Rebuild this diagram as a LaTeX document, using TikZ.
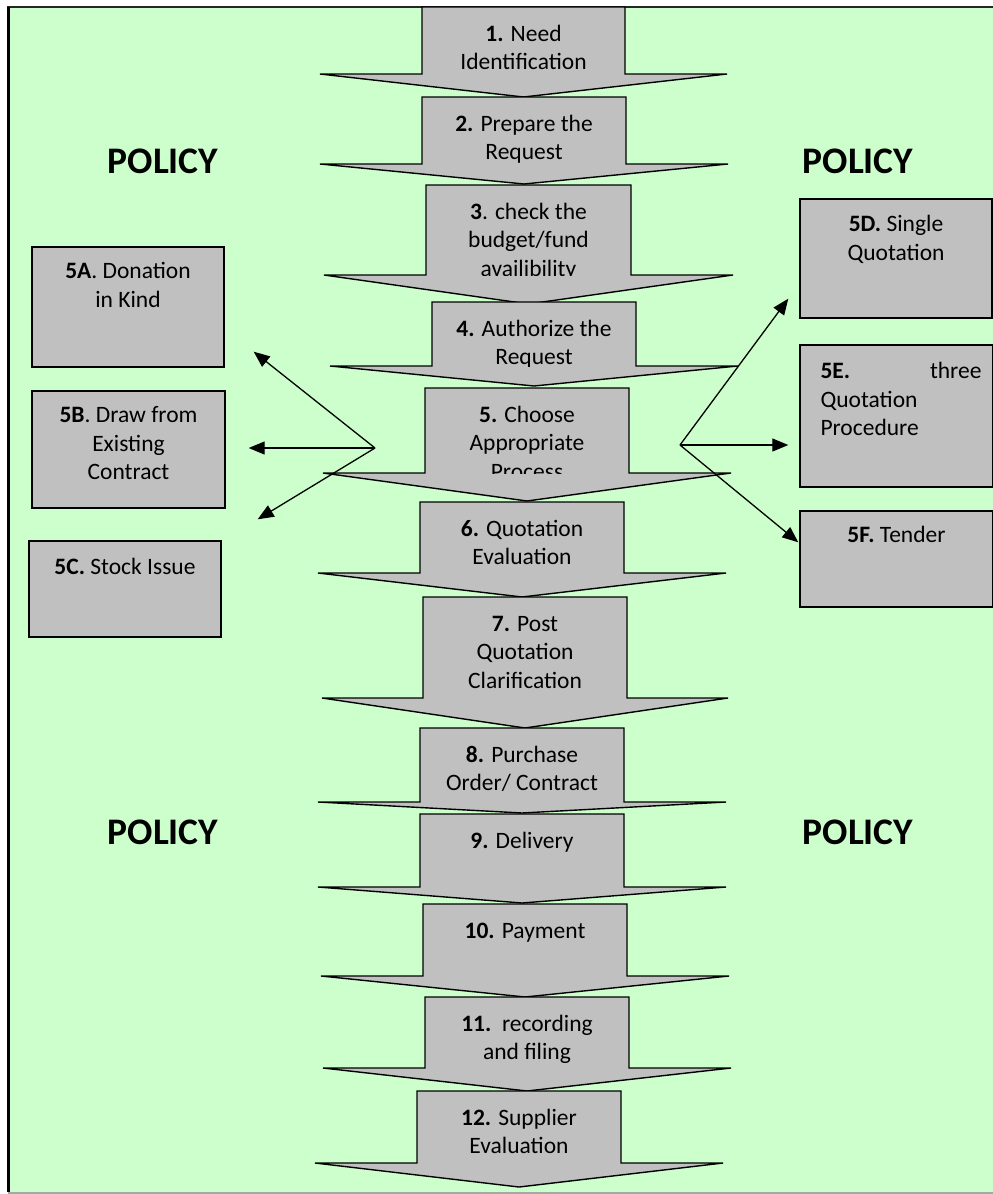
\documentclass[tikz,border=0pt]{standalone}
\usepackage{fontspec}
\setmainfont{Carlito}
\usetikzlibrary{arrows.meta,calc}
\definecolor{bggreen}{HTML}{CCFFCC}
\definecolor{boxgray}{HTML}{C0C0C0}
\newcommand{\procarrow}[8]{%
  \draw[arrowshape] (#2,#4) -- (#3,#4) -- (#3,#5) -- ({#2+#3-#6},#5) -- ({(#2+#3)/2},#7) -- (#6,#5) -- (#2,#5) -- cycle;
  \begin{scope}
    \clip (#2,#4) rectangle (#3,#5);
    \node[steptext] (#1) at ({(#2+#3)/2},{#4+17}) {\rule{0pt}{17pt}#8};
  \end{scope}}
\begin{document}
\begin{tikzpicture}[x=1pt,y=-1pt,
  arrowshape/.style={draw=black, fill=boxgray, line width=1.4pt, line join=miter},
  steptext/.style={anchor=north, inner sep=0pt, align=center, font=\fontsize{23.5}{28.5}\selectfont},
  pbox/.style={draw=black, fill=boxgray, line width=1.4pt, inner sep=0pt},
  boxtext/.style={anchor=north, inner sep=0pt, align=center, font=\fontsize{23.5}{28.5}\selectfont},
  policy/.style={anchor=base, inner sep=0pt, font=\fontsize{37.5}{40}\selectfont\bfseries},
  conn/.style={draw=black, line width=1.3pt, -{Triangle[length=16pt,width=13pt]}}]
\useasboundingbox (0,0) rectangle (993,1194);
\fill[white] (0,0) rectangle (993,1194);
\fill[bggreen] (8,7) rectangle (993,1192);
\draw[black!85, line width=2pt] (8,1192) -- (8,7) -- (993,7);
\draw[black, line width=3pt] (8,1192) -- (8,7);
\draw[gray!70, line width=1.5pt] (8,1193) -- (993,1193);

% main process arrows
\procarrow{s1}{422}{625}{7}{74}{320}{97}{\textbf{1.} Need\\Identification}
\procarrow{s2}{422}{626}{97}{164}{320}{184}{\textbf{2.} Prepare the\\Request}
\procarrow{s3}{426}{631}{185}{275}{324}{304}{\textbf{3}. check the\\budget/fund\\availibility}
\procarrow{s4}{432}{636}{302}{366}{330}{386}{\textbf{4.} Authorize the\\Request}
\procarrow{s5}{425}{629}{388}{473}{323}{501}{\textbf{5.} Choose\\Appropriate\\Process}
\procarrow{s6}{420}{624}{502}{573}{318}{597}{\textbf{6.} Quotation\\Evaluation}
\procarrow{s7}{423}{627}{597}{698}{322}{728}{\textbf{7.} Post\\Quotation\\Clarification}
\procarrow{s8}{420}{624}{728}{802}{318}{813}{\textbf{8.} Purchase\\Order/ Contract}
\procarrow{s9}{420}{624}{814}{887}{318}{903}{\textbf{9.} Delivery}
\procarrow{s10}{423}{627}{904}{976}{321}{997}{\textbf{10.} Payment}
\procarrow{s11}{425}{629}{997}{1068}{323}{1091}{\textbf{11.}\ \ recording\\and filing}
\procarrow{s12}{417}{621}{1091}{1163}{315}{1187}{\textbf{12.} Supplier\\Evaluation}

% POLICY labels
\node[policy] (pol1) at (163,173) {POLICY};
\node[policy] (pol2) at (858,173) {POLICY};
\node[policy] (pol3) at (163,844) {POLICY};
\node[policy] (pol4) at (858,844) {POLICY};

% left option boxes
\node[pbox, minimum width=192pt, minimum height=120pt] (b5a) at (128,307) {};
\node[pbox, minimum width=193pt, minimum height=117pt] (b5b) at (128.5,449.5) {};
\node[pbox, minimum width=192pt, minimum height=96pt] (b5c) at (125,589) {};
\node[boxtext] (t5a) at ($(b5a.north)+(0,15)$) {\rule{0pt}{17pt}\textbf{5A}. Donation\\in Kind};
\node[boxtext] (t5b) at ($(b5b.north)+(0,15)$) {\rule{0pt}{17pt}\textbf{5B}. Draw from\\Existing\\Contract};
\node[boxtext] (t5c) at ($(b5c.north)+(0,17)$) {\rule{0pt}{17pt}\textbf{5C.} Stock Issue};

% right option boxes
\node[pbox, minimum width=192pt, minimum height=119pt] (b5d) at (896,258.5) {};
\node[pbox, minimum width=193pt, minimum height=142pt] (b5e) at (896.5,416) {};
\node[pbox, minimum width=193pt, minimum height=96pt] (b5f) at (896.5,559) {};
\node[boxtext] (t5d) at ($(b5d.north)+(0,16)$) {\rule{0pt}{17pt}\textbf{5D.} Single\\Quotation};
\node[boxtext, anchor=north west, align=left, text width=161pt] (t5e) at ($(b5e.north west)+(21,17)$) {\rule{0pt}{17pt}\textbf{5E.}\hfill three\\Quotation\\Procedure};
\node[boxtext] (t5f) at ($(b5f.north)+(0,15)$) {\rule{0pt}{17pt}\textbf{5F.} Tender};

% connectors
\coordinate (lsplit) at (375,448);
\coordinate (la) at ($(b5a.south east)+(29,-16)$);
\coordinate (lb) at ($(b5b.east)+(23,-1.5)$);
\coordinate (lc) at ($(b5c.north east)+(36,-21)$);
\coordinate (rsplit) at (680,445);
\coordinate (rd) at ($(b5d.south west)+(-11,-20)$);
\coordinate (re) at ($(b5e.west)+(-11,29)$);
\coordinate (rf) at ($(b5f.north west)+(-1,32)$);
\draw[conn] (lsplit) -- (la);
\draw[conn] (lsplit) -- (lb);
\draw[conn] (lsplit) -- (lc);
\draw[conn] (rsplit) -- (rd);
\draw[conn] (rsplit) -- (re);
\draw[conn] (rsplit) -- (rf);
\end{tikzpicture}
\end{document}
